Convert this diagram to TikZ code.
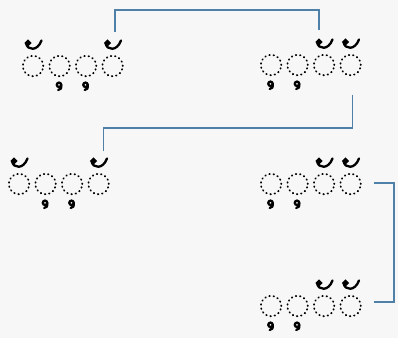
\documentclass[tikz,border=0pt]{standalone}
\usepackage{xcolor}
\usetikzlibrary{positioning,calc}

\definecolor{linkblue}{RGB}{79,128,168}
\definecolor{paper}{RGB}{247,247,247}

\tikzset{
	cell/.style={circle,draw=black,line width=1.8pt,line cap=round,
		dash pattern=on 0.6pt off 3.7pt,minimum size=20.5pt,inner sep=0pt,outer sep=0pt},
	markstroke/.style={line width=2.3pt,line cap=round,black},
	link/.style={linkblue,line width=1.5pt},
	upmark/.pic={
		\draw[markstroke] (-5,-23) circle (1.9);
		\draw[markstroke] (-6.9,-22.5) .. controls (-5.5,-15.5) and (4.5,-14.5) .. (8.5,-25.5);
	},
	downmark/.pic={
		\draw[markstroke] (-0.5,18.8) circle (2.2);
		\draw[markstroke] (1.7,18.8) .. controls (2,22) and (1.4,23.8) .. (-1.3,24);
	},
}

\begin{document}
\begin{tikzpicture}[x=1pt,y=-1pt]
		\fill[paper] (0,0) rectangle (398,338);
		\useasboundingbox (0,0) rectangle (398,338);
		%
		\node[cell] (a1) at (33,66) {};
		\node[cell,right=6pt of a1] (a2) {};
		\node[cell,right=6pt of a2] (a3) {};
		\node[cell,right=6pt of a3] (a4) {};
		\pic at (a1) {upmark};
		\pic at (a2) {downmark};
		\pic at (a3) {downmark};
		\pic at (a4) {upmark};
		%
		\node[cell] (b1) at (271,65) {};
		\node[cell,right=6pt of b1] (b2) {};
		\node[cell,right=6pt of b2] (b3) {};
		\node[cell,right=6pt of b3] (b4) {};
		\pic at (b1) {downmark};
		\pic at (b2) {downmark};
		\pic at (b3) {upmark};
		\pic at (b4) {upmark};
		%
		\node[cell] (c1) at (19,184) {};
		\node[cell,right=6pt of c1] (c2) {};
		\node[cell,right=6pt of c2] (c3) {};
		\node[cell,right=6pt of c3] (c4) {};
		\pic at (c1) {upmark};
		\pic at (c2) {downmark};
		\pic at (c3) {downmark};
		\pic at (c4) {upmark};
		%
		\node[cell] (d1) at (271,184) {};
		\node[cell,right=6pt of d1] (d2) {};
		\node[cell,right=6pt of d2] (d3) {};
		\node[cell,right=6pt of d3] (d4) {};
		\pic at (d1) {downmark};
		\pic at (d2) {downmark};
		\pic at (d3) {upmark};
		\pic at (d4) {upmark};
		%
		\node[cell] (e1) at (271,306) {};
		\node[cell,right=6pt of e1] (e2) {};
		\node[cell,right=6pt of e2] (e3) {};
		\node[cell,right=6pt of e3] (e4) {};
		\pic at (e1) {downmark};
		\pic at (e2) {downmark};
		\pic at (e3) {upmark};
		\pic at (e4) {upmark};
		%
		\draw[link] ($(a4.north)+(2.5,-24)$) -- ++(0,-22) -| ($(b3.north)+(-5,-24.5)$);
		\draw[link] ($(b4.south)+(2,19.5)$) -- ++(0,33) -| ($(c4.north)+(5,-22.5)$);
		\draw[link] ($(d4.east)+(13,-1)$) -- ++(20,0) |- ($(e4.east)+(13,-4)$);
	\end{tikzpicture}
\end{document}
